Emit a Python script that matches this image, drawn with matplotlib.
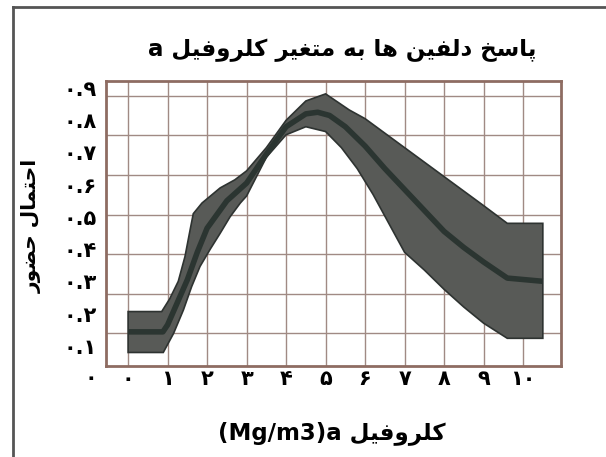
import matplotlib
matplotlib.use('Agg')
import matplotlib.pyplot as plt
from matplotlib.lines import Line2D

# curve knots (y in the units of the printed tick labels)
upper_x = [0, 0.85, 1.05, 1.27, 1.44, 1.57, 1.65, 1.87, 2.33, 2.7, 3.0, 3.5, 4.0, 4.5, 5.0, 5.6, 6.0, 7.0, 8.0, 9.0, 9.6, 10.5]
upper_y = [0.206, 0.206, 0.245, 0.30, 0.377, 0.46, 0.51, 0.543, 0.59, 0.615, 0.643, 0.715, 0.80, 0.86, 0.882, 0.832, 0.805, 0.715, 0.625, 0.535, 0.48, 0.48]

lower_x = [0, 0.89, 1.15, 1.40, 1.61, 1.82, 2.08, 2.33, 2.58, 2.84, 3.0, 3.5, 4.0, 4.5, 5.0, 5.4, 5.8, 6.2, 6.6, 7.0, 7.5, 8.0, 8.5, 9.0, 9.6, 10.5]
lower_y = [0.079, 0.079, 0.138, 0.211, 0.284, 0.346, 0.40, 0.449, 0.50, 0.543, 0.565, 0.685, 0.755, 0.78, 0.765, 0.715, 0.65, 0.57, 0.48, 0.39, 0.335, 0.275, 0.22, 0.17, 0.123, 0.123]

center_x = [0, 0.88, 1.0, 1.25, 1.5, 1.75, 2.0, 2.5, 3.0, 3.5, 4.0, 4.5, 4.8, 5.1, 5.5, 6.0, 6.5, 7.0, 7.5, 8.0, 8.5, 9.0, 9.6, 10.5]
center_y = [0.143, 0.143, 0.165, 0.235, 0.305, 0.39, 0.465, 0.55, 0.605, 0.695, 0.78, 0.82, 0.825, 0.815, 0.78, 0.72, 0.65, 0.585, 0.52, 0.455, 0.405, 0.36, 0.31, 0.30]

x_ticks = list(range(11))
x_labels = ['۰', '۱', '۲', '۳', '۴', '۵', '۶', '۷', '۸', '۹', '۱۰']
y_ticks = [0.1, 0.2, 0.3, 0.4, 0.5, 0.6, 0.7, 0.8, 0.9]
y_labels = ['۰.۱', '۰.۲', '۰.۳', '۰.۴', '۰.۵', '۰.۶', '۰.۷', '۰.۸', '۰.۹']
grid_y = [0.138, 0.261, 0.384, 0.507, 0.630, 0.753, 0.876]

title = 'پاسخ دلفین ها به متغیر کلروفیل a'
ylabel = 'احتمال حضور'
xlabel_fa = 'کلروفیل'
xlabel_unit = '(Mg/m3)a '

# contextual forms: isolated, final, initial, medial
FORMS = {
    'ا': ('\uFE8D', '\uFE8E', None, None),
    'ب': ('\uFE8F', '\uFE90', '\uFE91', '\uFE92'),
    'پ': ('\uFB56', '\uFB57', '\uFB58', '\uFB59'),
    'ت': ('\uFE95', '\uFE96', '\uFE97', '\uFE98'),
    'ح': ('\uFEA1', '\uFEA2', '\uFEA3', '\uFEA4'),
    'خ': ('\uFEA5', '\uFEA6', '\uFEA7', '\uFEA8'),
    'د': ('\uFEA9', '\uFEAA', None, None),
    'ر': ('\uFEAD', '\uFEAE', None, None),
    'س': ('\uFEB1', '\uFEB2', '\uFEB3', '\uFEB4'),
    'ض': ('\uFEBD', '\uFEBE', '\uFEBF', '\uFEC0'),
    'غ': ('\uFECD', '\uFECE', '\uFECF', '\uFED0'),
    'ف': ('\uFED1', '\uFED2', '\uFED3', '\uFED4'),
    'ل': ('\uFEDD', '\uFEDE', '\uFEDF', '\uFEE0'),
    'م': ('\uFEE1', '\uFEE2', '\uFEE3', '\uFEE4'),
    'ن': ('\uFEE5', '\uFEE6', '\uFEE7', '\uFEE8'),
    'ه': ('\uFEE9', '\uFEEA', '\uFEEB', '\uFEEC'),
    'و': ('\uFEED', '\uFEEE', None, None),
    'ی': ('\uFBFC', '\uFBFD', '\uFBFE', '\uFBFF'),
    'ک': ('\uFB8E', '\uFB8F', '\uFB90', '\uFB91'),
}


def shape(text):
    """join the letters and return them in visual (left to right) order"""
    out = []
    for i, c in enumerate(text):
        if c not in FORMS:
            out.append(c)
            continue
        prev = text[i - 1] if i > 0 else None
        nxt = text[i + 1] if i + 1 < len(text) else None
        jp = prev in FORMS and FORMS[prev][2] is not None
        jn = FORMS[c][2] is not None and nxt in FORMS
        isol, fina, init, medi = FORMS[c]
        if jp and jn:
            out.append(medi)
        elif jp:
            out.append(fina)
        elif jn:
            out.append(init)
        else:
            out.append(isol)
    return ''.join(out)[::-1]


plt.rcParams['font.family'] = ['DejaVu Sans']
plt.rcParams['font.weight'] = 'bold'

fig = plt.figure(figsize=(6.06, 4.57), dpi=100)
ax = fig.add_axes([106 / 606, 1 - 366 / 457, 455 / 606, 285 / 457])

band_x = upper_x + lower_x[::-1]
band_y = upper_y + lower_y[::-1]
ax.fill(band_x, band_y, facecolor='#585a57', edgecolor='#2e3331', lw=1.2, zorder=3)
ax.plot(center_x, center_y, color='#2b3531', lw=4, solid_capstyle='butt', zorder=4)

ax.set_xlim(-0.56, 10.96)
ax.set_ylim(0.037, 0.922)

ax.set_xticks(x_ticks)
ax.set_xticklabels(x_labels, fontsize=15, fontweight='bold')
ax.set_yticks(y_ticks)
ax.set_yticklabels(y_labels, fontsize=15, fontweight='bold')
ax.set_yticks(grid_y, minor=True)
ax.tick_params(axis='both', which='both', length=0)
ax.tick_params(axis='x', pad=2)
ax.tick_params(axis='y', pad=7)
ax.grid(axis='x', which='major', color='#a08a84', lw=1)
ax.grid(axis='y', which='minor', color='#a08a84', lw=1)
ax.grid(axis='y', which='major', visible=False)
ax.set_axisbelow(True)
for s in ax.spines.values():
    s.set_color('#8e6c62')
    s.set_linewidth(2)

# label for 0 sits below the frame
ax.text(-0.02, 0.0, '۰', transform=ax.get_yaxis_transform(), ha='right', va='center',
        fontsize=15, fontweight='bold', clip_on=False)

fig.text(342 / 606, 1 - 50 / 457, shape(title), ha='center', va='center', fontsize=16.5, fontweight='bold')
fig.text(32 / 606, 1 - 226 / 457, shape(ylabel), ha='center', va='center', rotation=90,
         fontsize=14.5, fontweight='bold')
fig.text(332 / 606, 1 - 433 / 457, xlabel_unit + shape(xlabel_fa), ha='center', va='center',
         fontsize=16.5, fontweight='bold')

# outer frame of the picture (left and top edges only)
fig.add_artist(Line2D([13 / 606, 13 / 606], [0, 1 - 7 / 457], transform=fig.transFigure, color='#555555', lw=2))
fig.add_artist(Line2D([13 / 606, 1], [1 - 7 / 457, 1 - 7 / 457], transform=fig.transFigure, color='#555555', lw=2))

fig.savefig('out.png', dpi=100)
